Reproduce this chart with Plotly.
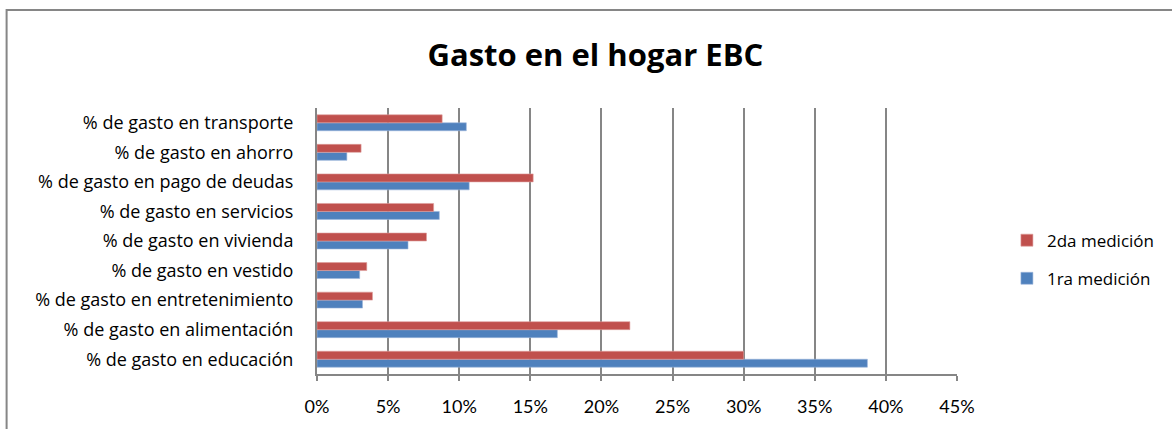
import plotly.graph_objects as go

# categories (bottom to top, as drawn)
categorias = [
    "% de gasto en educación",
    "% de gasto en alimentación",
    "% de gasto en entretenimiento",
    "% de gasto en vestido",
    "% de gasto en vivienda",
    "% de gasto en servicios",
    "% de gasto en pago de deudas",
    "% de gasto en ahorro",
    "% de gasto en transporte",
]
medicion_1 = [0.387, 0.169, 0.032, 0.030, 0.064, 0.086, 0.107, 0.021, 0.105]
medicion_2 = [0.300, 0.220, 0.039, 0.035, 0.077, 0.082, 0.152, 0.031, 0.088]
x_ticks = [0, 0.05, 0.10, 0.15, 0.20, 0.25, 0.30, 0.35, 0.40, 0.45]

FONT = "'Open Sans', Lato, sans-serif"
TICK_FONT = "Lato, 'Open Sans', sans-serif"

fig = go.Figure()
fig.add_trace(go.Bar(
    y=categorias, x=medicion_1, orientation="h", name="1ra medición",
    legendgroup="a", legendrank=2,
    marker=dict(color="#4F81BD", line=dict(color="#9DB7DC", width=0.6)),
))
fig.add_trace(go.Bar(
    y=categorias, x=medicion_2, orientation="h", name="2da medición",
    legendgroup="b", legendrank=1,
    marker=dict(color="#C0504D", line=dict(color="#DE9E9C", width=0.6)),
))

fig.update_layout(
    width=1172, height=429,
    margin=dict(l=317, r=215, t=108, b=55, autoexpand=False),
    paper_bgcolor="white", plot_bgcolor="white",
    barmode="group", bargap=0.46, bargroupgap=0,
    font=dict(family=FONT, color="black"),
    title=dict(
        text="<b>Gasto en el hogar EBC</b>", x=0.508, xanchor="center",
        y=0.872, yanchor="middle", font=dict(size=31, family=FONT, color="black"),
        automargin=False,
    ),
    showlegend=True,
    legend=dict(
        x=1.078, xanchor="left", y=0.43, yanchor="middle",
        traceorder="grouped", tracegroupgap=13,
        font=dict(size=17, family=FONT), bgcolor="rgba(0,0,0,0)",
    ),
    shapes=[dict(
        type="rect", xref="paper", yref="paper",
        x0=-0.485, x1=1.5, y0=-0.3, y1=1.368,
        line=dict(color="#868686", width=2), layer="below",
    )],
)

fig.update_xaxes(
    range=[0, 0.45], tickvals=x_ticks, tickformat=".0%",
    showgrid=True, gridcolor="#868686", gridwidth=1.5,
    showline=True, linecolor="#868686", linewidth=2,
    ticks="outside", ticklen=5, tickcolor="#868686", tickwidth=1.5,
    tickfont=dict(size=18, family=TICK_FONT, color="black"),
    ticklabelstandoff=10, zeroline=False, automargin=False,
)
fig.update_yaxes(
    showgrid=False, showline=True, linecolor="#868686", linewidth=2,
    ticks="", tickfont=dict(size=18, family=FONT, color="black"),
    ticklabelstandoff=18, automargin=False,
)

# page body has a default 8px margin; drop it so the figure sits at the window origin
fig.write_html(
    "out.html",
    config={"displayModeBar": False},
    post_script="document.body.style.margin='0';",
)
